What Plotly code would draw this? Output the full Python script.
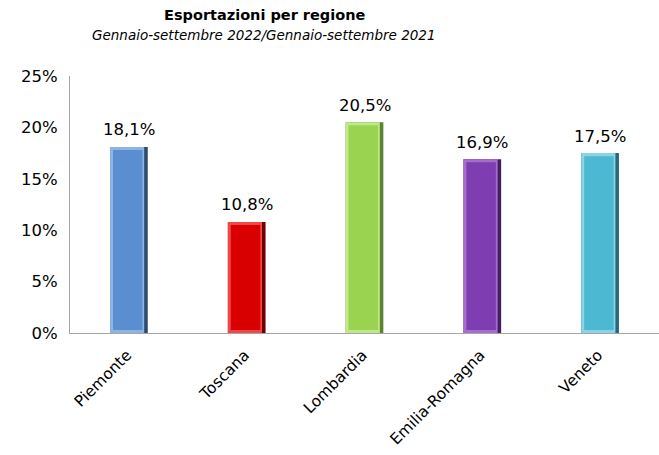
import plotly.graph_objects as go

regions = ["Piemonte", "Toscana", "Lombardia", "Emilia-Romagna", "Veneto"]
values = [0.181, 0.108, 0.205, 0.169, 0.175]
labels = ["18,1%", "10,8%", "20,5%", "16,9%", "17,5%"]
fill_colors = ["#5A8ED0", "#D80000", "#9AD350", "#7E3DB0", "#4CB8D2"]
edge_colors = ["#2C4A70", "#700000", "#5A8430", "#441E62", "#27687C"]
top_colors = ["#8DB4E4", "#F04848", "#BFE88A", "#A56ECC", "#8AD4E6"]

FONT = "DejaVu Sans"

fig = go.Figure()
# dark bevel edge
fig.add_trace(go.Bar(x=regions, y=values, width=0.32, marker=dict(color=edge_colors, line=dict(width=0)),
                     hoverinfo="skip", showlegend=False))
# light top/left bevel
fig.add_trace(go.Bar(x=regions, y=values, width=0.29, offset=-0.16,
                     marker=dict(color=top_colors, line=dict(width=0)),
                     hoverinfo="skip", showlegend=False))
# main face
fig.add_trace(go.Bar(x=regions, y=[v - 0.006 for v in values], width=0.25, offset=-0.135,
                     base=0.003,
                     marker=dict(color=fill_colors, line=dict(width=0)),
                     showlegend=False, hoverinfo="skip"))

annotations = [
    dict(text="<b>Esportazioni per regione</b>", xref="paper", yref="paper", x=0.33, y=1.0,
         yshift=61, showarrow=False, font=dict(family=FONT, size=14.5, color="#000"),
         xanchor="center", yanchor="middle"),
    dict(text="<i>Gennaio-settembre 2022/Gennaio-settembre 2021</i>", xref="paper", yref="paper",
         x=0.33, y=1.0, yshift=41, showarrow=False, font=dict(family=FONT, size=13.5, color="#000"),
         xanchor="center", yanchor="middle"),
]
for r, v, t in zip(regions, values, labels):
    annotations.append(dict(text=t, x=r, y=v, xref="x", yref="y", showarrow=False,
                            yshift=17, xanchor="center", yanchor="middle",
                            font=dict(family=FONT, size=16.5, color="#000")))

fig.update_layout(
    width=659, height=455,
    margin=dict(l=70, r=0, t=76, b=122),
    barmode="overlay",
    plot_bgcolor="white", paper_bgcolor="white",
    xaxis=dict(showline=True, linecolor="#A6A6A6", linewidth=1, tickangle=-45,
               tickfont=dict(family=FONT, size=15.5, color="#000"), showgrid=False,
               ticks="", ticklabelstandoff=6, ticklabelshift=-2, automargin=False),
    yaxis=dict(range=[0, 0.25], dtick=0.05, tickformat=".0%", showline=True, linecolor="#A6A6A6",
               linewidth=1, showgrid=False, zeroline=False, ticks="", automargin=False,
               tickfont=dict(family=FONT, size=16.5, color="#000"), ticklabelstandoff=8),
    annotations=annotations,
)

fig.write_html("out.html")
